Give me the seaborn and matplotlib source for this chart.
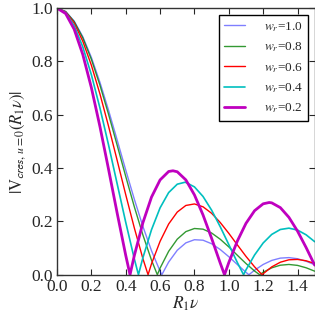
import pandas as pd
import matplotlib
matplotlib.use("Agg")
import matplotlib.pyplot as plt
import seaborn as sns

# valores: |V_cres,u=0| frente a R1*v para cada w_r
r1v = [0.00, 0.05, 0.10, 0.15, 0.20, 0.25, 0.30, 0.35, 0.40, 0.45,
       0.50, 0.55, 0.60, 0.65, 0.70, 0.75, 0.80, 0.85, 0.90, 0.95,
       1.00, 1.05, 1.10, 1.15, 1.20, 1.25, 1.30, 1.35, 1.40, 1.45, 1.50]

vis_w10 = [1.0, 0.9877, 0.9515, 0.8930, 0.8152, 0.7217, 0.6170, 0.5057, 0.3929, 0.2833,
           0.1812, 0.0902, 0.0133, 0.0477, 0.0919, 0.1196, 0.1314, 0.1296, 0.1163, 0.0947,
           0.0677, 0.0382, 0.0092, 0.0170, 0.0385, 0.0538, 0.0624, 0.0643, 0.0601, 0.0507, 0.0376]
vis_w08 = [1.0, 0.9872, 0.9495, 0.8887, 0.8078, 0.7106, 0.6017, 0.4862, 0.3690, 0.2551,
           0.1491, 0.0548, 0.0249, 0.0880, 0.1335, 0.1618, 0.1735, 0.1710, 0.1565, 0.1333,
           0.1045, 0.0730, 0.0421, 0.0140, 0.0092, 0.0260, 0.0358, 0.0386, 0.0351, 0.0262, 0.0134]
vis_w06 = [1.0, 0.9857, 0.9437, 0.8760, 0.7859, 0.6779, 0.5572, 0.4294, 0.3004, 0.1757,
           0.0604, 0.0410, 0.1254, 0.1905, 0.2352, 0.2599, 0.2656, 0.2549, 0.2305, 0.1961,
           0.1554, 0.1119, 0.0690, 0.0297, 0.0037, 0.0295, 0.0470, 0.0561, 0.0575, 0.0524, 0.0422]
vis_w04 = [1.0, 0.9833, 0.9341, 0.8550, 0.7503, 0.6253, 0.4868, 0.3416, 0.1969, 0.0597,
           0.0639, 0.1688, 0.2510, 0.3083, 0.3397, 0.3462, 0.3296, 0.2936, 0.2422, 0.1804,
           0.1132, 0.0455, 0.0182, 0.0741, 0.1191, 0.1513, 0.1698, 0.1748, 0.1676, 0.1499, 0.1241]
vis_w02 = [1.0, 0.9799, 0.9207, 0.8262, 0.7019, 0.5555, 0.3956, 0.2317, 0.0729, 0.0719,
           0.1953, 0.2912, 0.3557, 0.3874, 0.3863, 0.3558, 0.2996, 0.2242, 0.1366, 0.0441,
           0.0457, 0.1267, 0.1928, 0.2402, 0.2661, 0.2697, 0.2518, 0.2153, 0.1638, 0.1022, 0.0360]

# posiciones de los ceros (picos hacia abajo)
ceros_w10 = [0.610, 1.117]
ceros_w08 = [0.584, 1.180]
ceros_w06 = [0.530, 1.194]
ceros_w04 = [0.474, 1.086]
ceros_w02 = [0.425, 0.975]

# maximos leidos entre puntos de la rejilla
picos_x_w04 = [0.745]
picos_y_w04 = [0.3470]
picos_x_w02 = [0.675, 1.235]
picos_y_w02 = [0.3900, 0.2710]

etiquetas = ["1.0", "0.8", "0.6", "0.4", "0.2"]
colores = ["b", "g", "r", "c", "m"]
alfas = [0.5, 0.8, 1.0, 1.0, 1.0]
anchos = [1.0, 1.0, 1.0, 1.2, 2.0]

curvas = [(vis_w10, ceros_w10, [], []),
          (vis_w08, ceros_w08, [], []),
          (vis_w06, ceros_w06, [], []),
          (vis_w04, ceros_w04, picos_x_w04, picos_y_w04),
          (vis_w02, ceros_w02, picos_x_w02, picos_y_w02)]

sns.set_style("ticks")
plt.rcParams["font.family"] = ["Liberation Serif", "DejaVu Serif"]
plt.rcParams["mathtext.fontset"] = "stix"
plt.rcParams["xtick.direction"] = "in"
plt.rcParams["ytick.direction"] = "in"
plt.rcParams["xtick.top"] = True
plt.rcParams["ytick.right"] = True

fig = plt.figure(figsize=(3.15, 3.14), dpi=100)
ax = fig.add_axes([0.181, 0.125, 0.818, 0.849])

for (vals, ceros, px, py), et, col, a, lw in zip(curvas, etiquetas, colores, alfas, anchos):
    df = pd.DataFrame({"x": r1v + ceros + px, "y": vals + [0.0] * len(ceros) + py})
    df = df.sort_values("x")
    sns.lineplot(data=df, x="x", y="y", color=col, alpha=a, lw=lw,
                 estimator=None, sort=True, label=r"$w_r$=" + et, ax=ax)

ax.set_xlim(0, 1.5)
ax.set_ylim(0, 1.0)
ax.set_xticks([0.0, 0.2, 0.4, 0.6, 0.8, 1.0, 1.2, 1.4])
ax.set_yticks([0.0, 0.2, 0.4, 0.6, 0.8, 1.0])
ax.tick_params(labelsize=12.5, length=4, width=0.8, pad=3)
ax.set_xlabel(r"$R_1 \nu$", fontsize=12.5, labelpad=0)
ax.set_ylabel(r"$|\mathrm{V}_{\mathsf{cres},\,u=0}(R_1 \nu)|$", fontsize=12, labelpad=2)
for s in ax.spines.values():
    s.set_linewidth(1.0)
    s.set_color("#333333")

leg = ax.legend(loc="upper right", fontsize=9.5, frameon=True, fancybox=False,
                edgecolor="black", framealpha=1, handlelength=1.6, borderaxespad=0.5,
                labelspacing=0.5, handletextpad=1.4)
leg.get_frame().set_linewidth(1.0)

plt.savefig("out.png", dpi=100)
